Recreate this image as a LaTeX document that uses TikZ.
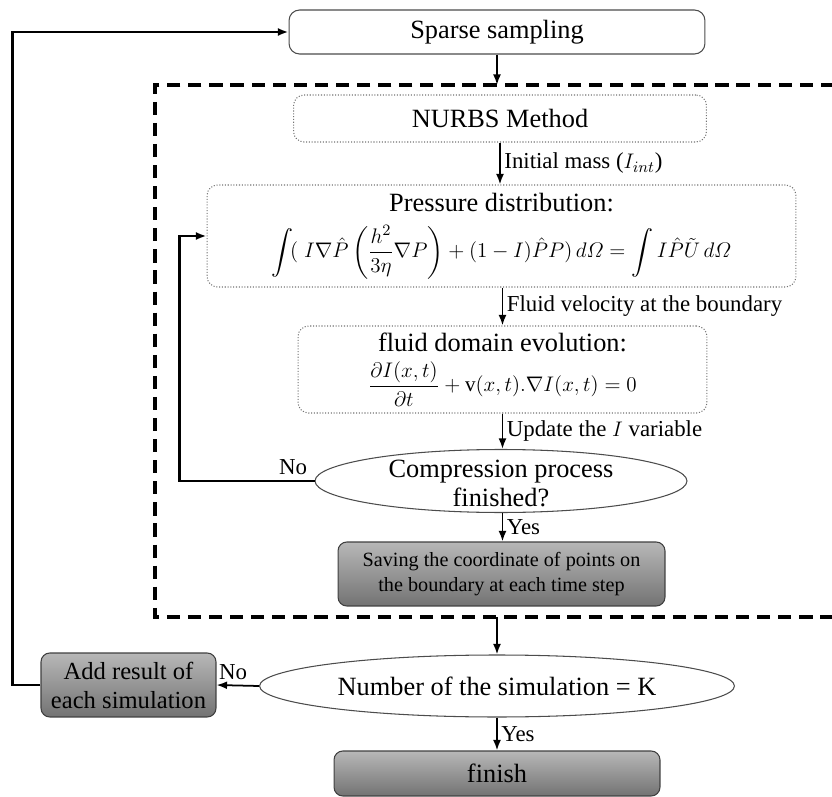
\documentclass[tikz,border=0pt]{standalone}
\usepackage{amsmath,amssymb}
\usepackage{fontspec}
\setmainfont{Liberation Serif}
\usetikzlibrary{shapes.geometric,arrows.meta,positioning}

\tikzset{
  dotbox/.style={draw=black!55, densely dotted, rounded corners=6pt, line width=0.6pt, align=center, font=\fontsize{15}{18}\selectfont},
  graybox/.style={draw=black!75, rounded corners=5pt, top color=black!28, bottom color=black!55, line width=0.6pt, align=center},
  plainbox/.style={draw=black!70, rounded corners=6pt, line width=0.6pt, font=\fontsize{15}{18}\selectfont},
  decide/.style={draw=black!70, ellipse, line width=0.6pt, inner sep=0pt, font=\fontsize{15}{18}\selectfont},
  arr/.style={-{Latex[length=6pt,width=4.5pt]}, line width=1pt},
  backline/.style={-{Latex[length=6pt,width=4.5pt]}, line width=1.4pt},
  lbl/.style={font=\fontsize{13}{15}\selectfont, anchor=west, inner sep=2pt},
  dashframe/.style={line width=1.8pt, dash pattern=on 7.5pt off 4.5pt}
}

\begin{document}
\begin{tikzpicture}[x=0.02cm, y=-0.02cm]
    \useasboundingbox (0,0) rectangle (832,797);

    % outer loop
    \node[plainbox, minimum width=8.32cm, minimum height=0.88cm] (sparse) at (497,32) {Sparse sampling};
    \coordinate (frametop) at (497,85);
    \coordinate (framebot) at (497,617);
    \draw[dashframe] (834,85) -- (155,85) -- (155,617) -- (834,617);
    \draw[arr] (sparse.south) -- (frametop);

    % inner loop
    \node[dotbox, minimum width=8.26cm, minimum height=0.94cm] (nurbs) at (500,118.5) {NURBS Method};
    \node[dotbox, minimum width=11.78cm, minimum height=2.04cm, inner sep=0pt] (pressure) at (501.5,236)
        {Pressure distribution:\\[7pt]
         {\fontsize{12.5}{15}\selectfont$\displaystyle\int\!(\;I\nabla\hat{P}\left(\frac{h^{2}}{3\eta}\nabla P\right)+(1-I)\hat{P}P)\,d\varOmega=\int I\hat{P}\tilde{U}\,d\varOmega$}};
    \node[dotbox, minimum width=8.18cm, minimum height=1.74cm, inner sep=0pt] (fluid) at (502.5,369.5)
        {fluid domain evolution:\\[5pt]
         {\fontsize{12}{14}\selectfont$\dfrac{\partial I(x,t)}{\partial t}+\mathrm{v}(x,t).\nabla I(x,t)=0$}};
    \node[decide, minimum width=7.44cm, minimum height=1.26cm] (compress) at (501,481) {};
    \node[align=center, font=\fontsize{15}{17}\selectfont, inner sep=0pt] (compresstext) at (501,483.5) {Compression process\\finished?};
    \node[graybox, minimum width=6.54cm, minimum height=1.28cm, font=\fontsize{11.5}{14}\selectfont] (saving) at (501.5,574)
        {Saving the coordinate of points on\\the boundary at each time step};

    \draw[arr] (nurbs.south) -- (nurbs.south |- pressure.north)
        node[midway, lbl] (lblmass) {Initial mass ($I_{int}$)};
    \draw[arr] (pressure.south -| fluid.north) -- (fluid.north)
        node[midway, lbl] (lblvel) {Fluid velocity at the boundary};
    \draw[arr] (fluid.south) -- (fluid.south |- compress.north)
        node[midway, lbl] (lblupd) {Update the $I$ variable};
    \draw[arr] (fluid.south |- compress.south) -- (fluid.south |- saving.north)
        node[midway, lbl] (lblyes1) {Yes};
    \draw[backline] (compress.west) -- ++(-135,0) |- (pressure.west);
    \node[font=\fontsize{13}{15}\selectfont] (lblno1) at (293,467) {No};

    % simulation count
    \node[decide, minimum width=9.5cm, minimum height=1.24cm] (number) at (497,686) {Number of the simulation = K};
    \node[graybox, minimum width=3.5cm, minimum height=1.28cm, font=\fontsize{14}{16.5}\selectfont] (addres) at (128.5,685)
        {Add result of\\each simulation};
    \node[graybox, minimum width=6.52cm, minimum height=0.9cm, font=\fontsize{15}{18}\selectfont] (finish) at (497,773.5) {finish};

    \draw[arr] (framebot) -- (number.north);
    \draw[arr] (number.west) -- (addres.east);
    \node[font=\fontsize{13}{15}\selectfont] (lblno2) at (233,672) {No};
    \draw[arr] (number.south) -- (finish.north)
        node[midway, lbl] (lblyes2) {Yes};
    \draw[backline] (addres.west) -- ++(-28,0) |- (sparse.west);
\end{tikzpicture}
\end{document}
